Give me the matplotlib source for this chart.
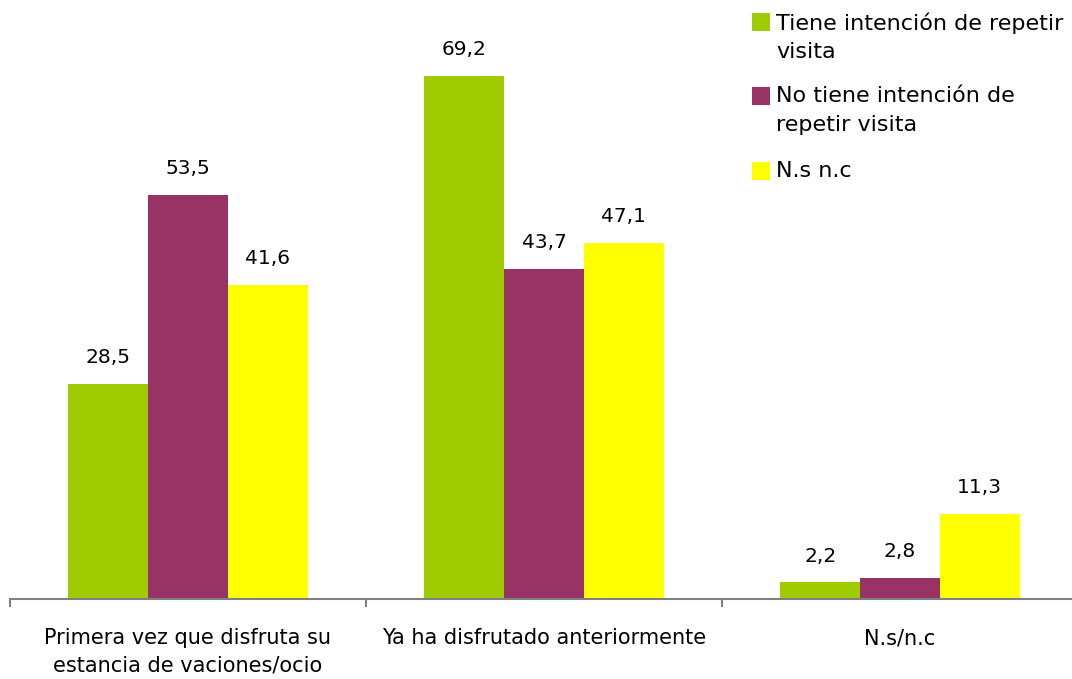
import matplotlib
matplotlib.use("Agg")
import matplotlib.pyplot as plt
from matplotlib.patches import Rectangle
import numpy as np

categories = ["Primera vez que disfruta su\nestancia de vaciones/ocio",
              "Ya ha disfrutado anteriormente",
              "N.s/n.c"]
series_names = ["Tiene intención de repetir\nvisita",
                "No tiene intención de\nrepetir visita",
                "N.s n.c"]
tiene = [28.5, 69.2, 2.2]
no_tiene = [53.5, 43.7, 2.8]
nsnc = [41.6, 47.1, 11.3]
colors = ["#9ecc00", "#993366", "#ffff00"]

plt.rcParams['font.family'] = ['DejaVu Sans']
fig = plt.figure(figsize=(10.72, 6.79), dpi=100)
ax = fig.add_axes([10 / 1072, 80 / 679, 1068 / 1072, 599 / 679])

x = np.arange(len(categories))
w = 0.224
for i, (vals, c, name) in enumerate(zip([tiene, no_tiene, nsnc], colors, series_names)):
    bars = ax.bar(x + (i - 1) * w, vals, w, color=c, label=name)
    for b, v in zip(bars, vals):
        ax.annotate(f"{v:.1f}".replace(".", ","),
                    (b.get_x() + b.get_width() / 2, v),
                    xytext=(0, 12), textcoords="offset points",
                    ha="center", va="bottom", fontsize=14.5, color="#000000")

ax.set_xlim(-0.5, 2.5)
ax.set_ylim(0, 79.25)
for s in ["top", "right", "left"]:
    ax.spines[s].set_visible(False)
ax.spines["bottom"].set_color("#808080")
ax.spines["bottom"].set_linewidth(1.5)
ax.set_yticks([])
ax.set_xticks([-0.5, 0.5, 1.5, 2.5], minor=False)
ax.set_xticklabels([])
ax.tick_params(axis="x", which="major", direction="out", length=6, width=1.5, color="#808080")
ax.set_xticks(x, minor=True)
ax.set_xticklabels(categories, minor=True, fontsize=15, linespacing=1.45)
ax.tick_params(axis="x", which="minor", length=0, pad=21)

# Legend drawn manually (handles aligned with first line of each label)
W, H = 1072, 679
legend_rows = [13, 87, 162]  # top pixel of each handle square
for name, c, top in zip(series_names, colors, legend_rows):
    fig.patches.append(Rectangle((752 / W, 1 - (top + 18) / H), 18 / W, 18 / H,
                                 transform=fig.transFigure, facecolor=c, edgecolor="none"))
    fig.text(776 / W, 1 - (top - 1) / H, name, fontsize=16, va="top", ha="left",
             linespacing=1.55, color="#000000")

fig.savefig("out.png", dpi=100)
